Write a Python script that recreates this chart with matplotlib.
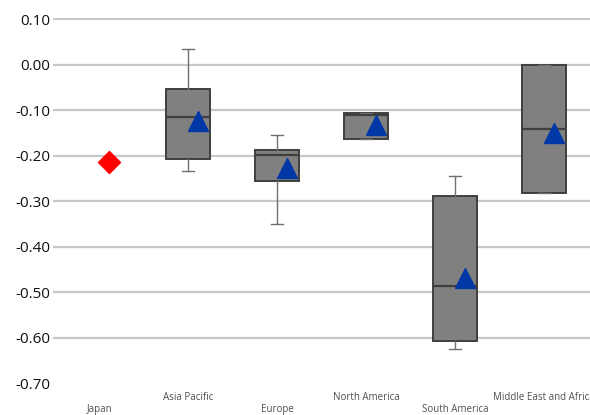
import numpy as np
import matplotlib
matplotlib.use("Agg")
import matplotlib.pyplot as plt

plt.rcParams['font.family'] = ['Open Sans', 'DejaVu Sans']
plt.rcParams['axes.unicode_minus'] = False

# regions and box statistics
regions = ["Japan", "Asia Pacific", "Europe", "North America",
           "South America", "Middle East and Africa"]
whisker_low = [None, -0.232, -0.349, -0.163, -0.624, -0.281]
q1 = [None, -0.206, -0.255, -0.163, -0.607, -0.281]
median = [None, -0.115, -0.197, -0.109, -0.486, -0.140]
q3 = [None, -0.054, -0.186, -0.105, -0.287, 0.000]
whisker_high = [None, 0.036, -0.154, -0.105, -0.243, 0.000]
means = [-0.214, -0.124, -0.227, -0.133, -0.469, -0.150]

yticks = [0.10, 0.00, -0.10, -0.20, -0.30, -0.40, -0.50, -0.60, -0.70]

fig = plt.figure(figsize=(5.9, 4.15), dpi=100)
ax = fig.add_axes([53 / 590, (415 - 383.5) / 415, 1 - 53 / 590, (383.5 - 18.5) / 415])

# boxes (Japan has a single value -> marker only)
stats = []
pos = []
for i in range(1, len(regions)):
    stats.append(dict(whislo=whisker_low[i], q1=q1[i], med=median[i],
                      q3=q3[i], whishi=whisker_high[i], fliers=[]))
    pos.append(i)

ax.bxp(stats, positions=pos, widths=0.5, patch_artist=True, showfliers=False,
       capwidths=0.13,
       boxprops=dict(facecolor='#808080', edgecolor='#3f3f3f', linewidth=1.4),
       medianprops=dict(color='#3f3f3f', linewidth=1.6),
       whiskerprops=dict(color='#707070', linewidth=1.0),
       capprops=dict(color='#707070', linewidth=1.0), zorder=3)

x = np.arange(len(regions))
off = 0.11
ax.plot(x[1:] + off, means[1:], linestyle='none', marker='^', markersize=15,
        color='#0039a6', zorder=4)
ax.plot(x[0] + off, means[0], linestyle='none', marker='D', markersize=11,
        color='#ff0000', zorder=4)

ax.set_xlim(-0.52, 5.52)
ax.set_ylim(-0.70, 0.102)
ax.set_yticks(yticks)
ax.set_yticklabels(["%.2f" % v for v in yticks], fontsize=11, color='#111111')
ax.yaxis.grid(True, color='#c8c8c8', linewidth=1.6)
ax.yaxis.get_gridlines()[-1].set_visible(False)
ax.set_axisbelow(True)

ax.set_xticks(x)
ax.set_xticklabels(regions, fontsize=7, color='#505050')
for i, tick in enumerate(ax.xaxis.get_major_ticks()):
    tick.set_pad(15 if i % 2 == 0 else 6)

ax.tick_params(length=0)
ax.tick_params(axis='y', pad=2)
for s in ax.spines.values():
    s.set_visible(False)

fig.savefig("out.png", dpi=100)
